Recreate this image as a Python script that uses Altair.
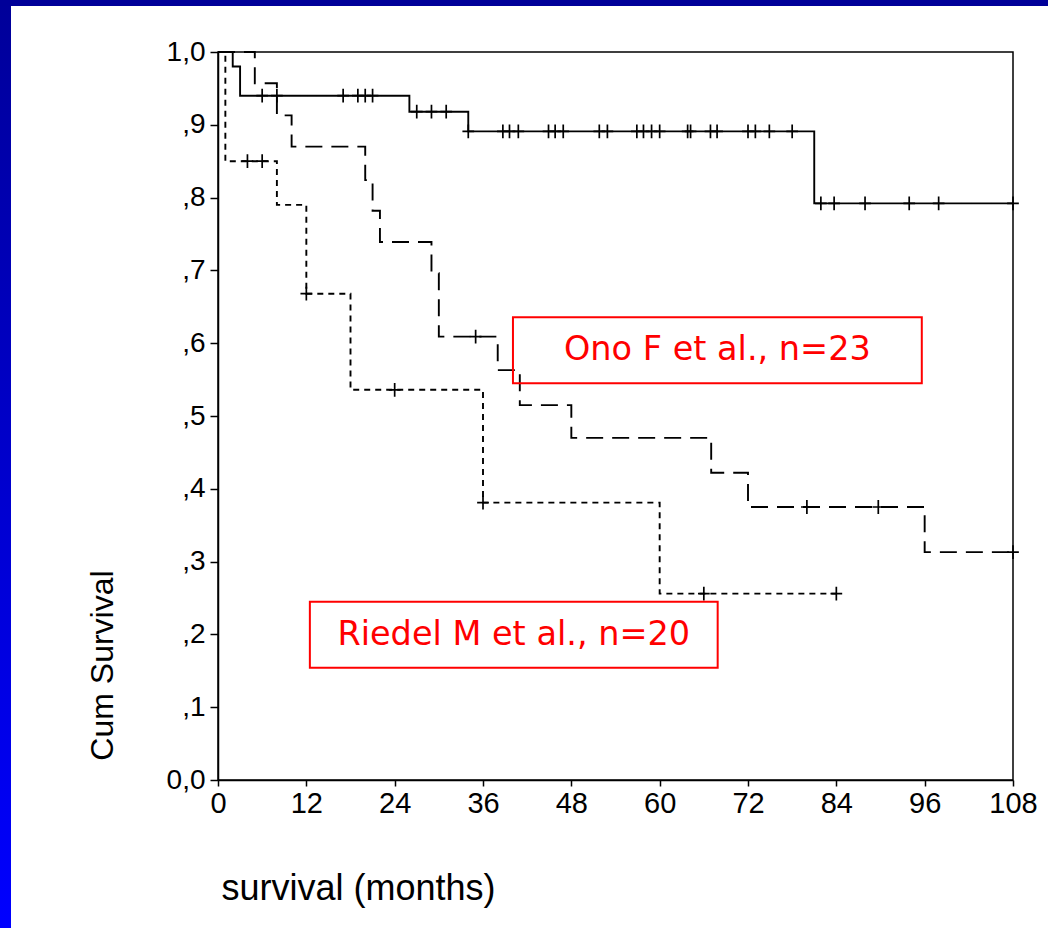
import altair as alt
import pandas as pd

# ---- data ----
# solid curve
solid_t = [0, 2, 3, 26, 34, 81, 108]
solid_s = [1.0, 0.98, 0.94, 0.918, 0.891, 0.792, 0.792]
solid_cens = [6, 8, 17, 19, 20, 21, 27, 29, 31, 34, 38.7, 39.6, 40.8, 44.9, 45.8,
              46.9, 51.8, 52.9, 56.9, 57.8, 58.9, 60, 63.8, 64.2, 66.9, 67.8, 72,
              73, 74.9, 78, 81.9, 83.7, 87.9, 93.9, 97.9, 108]

# long dashed curve (Ono F et al.)
long_t = [0, 5, 8, 10, 20, 21, 22, 29, 30, 38, 41, 48, 67, 72, 96, 108]
long_s = [1.0, 0.957, 0.913, 0.87, 0.824, 0.782, 0.739, 0.696, 0.609, 0.563,
          0.515, 0.470, 0.422, 0.375, 0.313, 0.313]
long_cens = [35, 80, 89.7, 108]

# short dashed curve (Riedel M et al.)
short_t = [0, 1, 8, 12, 18, 36, 60, 84]
short_s = [1.0, 0.85, 0.79, 0.668, 0.536, 0.381, 0.256, 0.256]
short_cens = [4, 6, 12, 24, 36, 66, 84]

x_ticks = [0, 12, 24, 36, 48, 60, 72, 84, 96, 108]
y_ticks = [0.0, 0.1, 0.2, 0.3, 0.4, 0.5, 0.6, 0.7, 0.8, 0.9, 1.0]
y_labels = ["0,0", ",1", ",2", ",3", ",4", ",5", ",6", ",7", ",8", ",9", "1,0"]

box_labels = ["Ono F et al., n=23", "Riedel M et al., n=20"]
box_x1 = [40.07, 12.48]
box_x2 = [95.61, 67.88]
box_y1 = [0.6356, 0.2449]
box_y2 = [0.5449, 0.1543]


def surv_at(ts, ss, c):
    v = ss[0]
    for t, s in zip(ts, ss):
        if t <= c:
            v = s
    return v


X = alt.X("t:Q", scale=alt.Scale(domain=[0, 108], nice=False, zero=False),
          axis=alt.Axis(values=x_ticks, title="survival (months)", grid=False,
                        tickSize=6, labelFontSize=29, labelPadding=3,
                        titleFontSize=36, titleFontWeight="normal",
                        titleX=140, titleY=108, titleBaseline="middle",
                        titleAlign="center", labelFlush=False))
Y = alt.Y("s:Q", scale=alt.Scale(domain=[0, 1], nice=False, zero=False),
          axis=alt.Axis(values=y_ticks, title="Cum Survival", grid=False,
                        tickSize=8, labelFontSize=28, labelPadding=5,
                        labelExpr="[" + ",".join("'%s'" % l for l in y_labels) + "][round(datum.value*10)]",
                        titleFontSize=32, titleFontWeight="normal",
                        titleX=-116, titleY=665 - 52, titleAngle=270,
                        titleBaseline="middle", titleAlign="center"))

cross = "M-0.85,0L0.85,0M0,-1L0,1"


def curve(ts, ss, cens, dash):
    df = pd.DataFrame({"t": ts, "s": ss})
    line = alt.Chart(df).mark_line(interpolate="step-after", color="black",
                                   strokeWidth=1.9, strokeDash=dash).encode(x=X, y=Y)
    cdf = pd.DataFrame({"t": cens, "s": [surv_at(ts, ss, c) for c in cens]})
    pts = alt.Chart(cdf).mark_point(shape=cross, size=190, stroke="black",
                                    strokeWidth=1.7, filled=False, opacity=1
                                    ).encode(x=X, y=Y)
    return [line, pts]


one = pd.DataFrame({"a": [0]})
grad = alt.Gradient(gradient="linear",
                    stops=[alt.GradientStop(color="#000099", offset=0),
                           alt.GradientStop(color="#0000FF", offset=1)],
                    x1=0, x2=0, y1=0, y2=1)
left_bar = alt.Chart(one).mark_rect(fill=grad).encode(
    x=alt.value(-218), x2=alt.value(-207), y=alt.value(-52), y2=alt.value(876))
top_bar = alt.Chart(one).mark_rect(fill="#000099").encode(
    x=alt.value(-218), x2=alt.value(830), y=alt.value(-52), y2=alt.value(-46))

bdf = pd.DataFrame({"label": box_labels, "x1": box_x1, "x2": box_x2,
                    "y1": box_y1, "y2": box_y2})
bdf["xc"] = (bdf["x1"] + bdf["x2"]) / 2
bdf["yc"] = (bdf["y1"] + bdf["y2"]) / 2
xs = alt.Scale(domain=[0, 108], nice=False, zero=False)
ys = alt.Scale(domain=[0, 1], nice=False, zero=False)
boxes = alt.Chart(bdf).mark_rect(fillOpacity=0, stroke="#FF0000", strokeWidth=2).encode(
    x=alt.X("x1:Q", scale=xs), x2="x2:Q", y=alt.Y("y1:Q", scale=ys), y2="y2:Q")
texts = alt.Chart(bdf).mark_text(font="Comic Sans MS, DejaVu Sans", fontSize=33.5,
                                 color="#FF0000", baseline="middle", align="center").encode(
    x=alt.X("xc:Q", scale=xs), y=alt.Y("yc:Q", scale=ys), text="label:N")

layers = [left_bar, top_bar]
layers += curve(solid_t, solid_s, solid_cens, [1, 0])
layers += curve(long_t, long_s, long_cens, [17, 9])
layers += curve(short_t, short_s, short_cens, [6, 5])
layers += [boxes, texts]

chart = alt.layer(*layers).properties(
    width=795, height=728,
    autosize=alt.AutoSizeParams(type="none"),
    padding={"left": 218, "top": 52, "right": 35, "bottom": 148},
    background="white",
).configure_view(stroke="black", strokeWidth=1.5).configure_axis(
    domainColor="black", domainWidth=1.5, tickColor="black", tickWidth=1.5,
    labelColor="black", titleColor="black", labelFont="Liberation Sans",
    titleFont="Liberation Sans")

chart.save("out.html", embed_options={"renderer": "svg", "actions": False})
